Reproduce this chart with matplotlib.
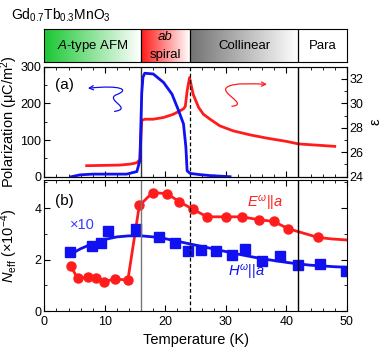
import numpy as np
import matplotlib
matplotlib.use("Agg")
import matplotlib.pyplot as plt
from matplotlib.path import Path
from matplotlib.patches import FancyArrowPatch
from matplotlib.ticker import MultipleLocator

plt.rcParams['font.family'] = ['Liberation Sans', 'DejaVu Sans']
plt.rcParams['font.size'] = 9
plt.rcParams['axes.labelsize'] = 10.5
plt.rcParams['mathtext.fontset'] = 'custom'
plt.rcParams['mathtext.rm'] = 'Liberation Sans'
plt.rcParams['mathtext.it'] = 'Liberation Sans:italic'

RED = '#ff1c1c'
BLUE = '#1010f0'

# (a) polarization (left axis) and permittivity (right axis)
T_P = [4.5, 5.9, 8.0, 10.3, 13.6, 15.3, 15.8, 16.1, 16.3, 16.6, 18.0, 19.7,
       21.1, 22.1, 23.0, 23.4, 23.6, 24.1, 25.5, 27.4, 30.7]
P = [0, 5, 7, 7, 7, 14, 45, 227, 271, 282, 280, 257,
     225, 184, 144, 80, 16, 9, 6, 3, 0]

T_eps = [7.0, 12.5, 14.2, 15.3, 15.8, 16.1, 16.6, 18.0, 19.7, 21.3, 22.4, 23.0,
         23.3, 23.6, 24.0, 24.6, 25.5, 26.3, 27.4, 29.0, 31.2, 34.0, 36.8,
         40.1, 42.0, 45.0, 48.0]
eps = [24.9, 24.95, 25.03, 25.14, 25.4, 28.6, 28.7, 28.7, 28.84, 29.1, 29.38, 29.55,
       29.75, 31.0, 32.1, 30.74, 29.66, 29.1, 28.7, 28.16, 27.75, 27.42, 27.15,
       26.88, 26.68, 26.58, 26.48]

# (b) N_eff
T_E = [4.36, 5.5, 7.3, 8.55, 9.9, 11.7, 13.8, 15.7, 17.9, 20.3, 22.3, 24.5,
       26.9, 30.0, 32.6, 35.4, 37.9, 40.3, 45.2]
N_E = [1.74, 1.28, 1.31, 1.28, 1.13, 1.26, 1.19, 4.1, 4.6, 4.56, 4.25, 3.96,
       3.66, 3.66, 3.66, 3.55, 3.48, 3.2, 2.86]
T_E_tail = [47.5, 50.0]
N_E_tail = [2.8, 2.76]

T_H = [4.25, 7.9, 9.4, 10.6, 15.2, 19.0, 21.6, 23.8, 25.9, 28.3, 31.0, 33.2,
       35.9, 39.0, 42.0, 45.6, 49.9]
N_H = [2.29, 2.54, 2.63, 3.09, 3.2, 2.86, 2.65, 2.34, 2.38, 2.32, 2.19, 2.41,
       1.95, 2.14, 1.77, 1.84, 1.57]
T_Hfit = [4.3, 6, 8, 10, 12, 14, 16, 18, 20, 22, 24, 26, 28, 30, 32, 34, 36,
          38, 40, 42, 44, 46, 48, 50]
N_Hfit = [2.2, 2.42, 2.62, 2.78, 2.88, 2.92, 2.92, 2.88, 2.81, 2.71, 2.61, 2.51,
          2.41, 2.31, 2.21, 2.12, 2.03, 1.96, 1.89, 1.83, 1.78, 1.75, 1.72, 1.7]

# phase diagram
phase_edges = [0, 16, 24, 42, 50]
phase_colors = [(0.1, 0.78, 0.2), (1.0, 0.1, 0.1), (0.45, 0.45, 0.45), (1, 1, 1)]
T_lines = [16, 24, 42]

fig = plt.figure(figsize=(3.82, 3.47), dpi=100)
L, W = 0.116, 0.792
axp = fig.add_axes([L, 0.8213, W, 0.0951])
ax1 = fig.add_axes([L, 0.4908, W, 0.3172])
ax3 = fig.add_axes([L, 0.1037, W, 0.3783])

# phase bar with gradients
for i in range(4):
    x0, x1 = phase_edges[i], phase_edges[i + 1]
    c = np.array(phase_colors[i])
    f = np.linspace(0, 1, 100)[None, :, None]
    if i < 3:
        img = c * (1 - f) + 1.0 * f
    else:
        img = np.ones((1, 100, 3))
    axp.imshow(img, extent=[x0, x1, 0, 1], aspect='auto')
    if i > 0:
        axp.axvline(x0, color='k', lw=0.9)
axp.set_xlim(0, 50)
axp.set_ylim(0, 1)
axp.set_xticks([])
axp.set_yticks([])
axp.text(8, 0.48, r'$\it{A}$-type AFM', ha='center', va='center', fontsize=9.5)
axp.text(20, 0.76, 'ab', style='italic', ha='center', va='center', fontsize=9.5)
axp.text(20, 0.22, 'spiral', ha='center', va='center', fontsize=9.5)
axp.text(33, 0.48, 'Collinear', ha='center', va='center', fontsize=9.5)
axp.text(46, 0.48, 'Para', ha='center', va='center', fontsize=9.5)

fig.text(0.03, 0.955, r'Gd$_{0.7}$Tb$_{0.3}$MnO$_3$', fontsize=10, va='center')

# (a)
ax2 = ax1.twinx()
ax1.plot(T_P, P, color=BLUE, lw=2, zorder=3)
ax2.plot(T_eps, eps, color=RED, lw=2)
ax1.set_zorder(ax2.get_zorder() + 1)
ax1.patch.set_visible(False)
ax1.set_xlim(0, 50)
ax1.set_ylim(0, 300)
ax2.set_ylim(24, 33)
ax1.set_ylabel('Polarization (μC/m$^2$)')
ax1.yaxis.set_label_coords(-0.082, 0.5)
ax2.set_ylabel('ε')
ax2.yaxis.set_label_coords(1.07, 0.5)
ax1.text(1.8, 250, '(a)', fontsize=11, va='center')
ax1.xaxis.set_major_locator(MultipleLocator(10))
ax1.xaxis.set_minor_locator(MultipleLocator(2))
ax1.yaxis.set_major_locator(MultipleLocator(100))
ax1.yaxis.set_minor_locator(MultipleLocator(50))
ax2.yaxis.set_major_locator(MultipleLocator(2))
ax2.yaxis.set_minor_locator(MultipleLocator(1))
ax1.tick_params(which='both', direction='in', top=True, right=False, labelbottom=False)
ax2.tick_params(which='both', direction='in', pad=2)
ax1.tick_params(axis='y', pad=2)
for ax in (ax1, ax2):
    ax.tick_params(which='major', length=4)
    ax.tick_params(which='minor', length=2)

# curly arrows
blue_path = Path([(11.6, 178), (14.8, 186), (9.8, 210), (12.0, 224),
                  (14.2, 238), (12.5, 250), (7.2, 241)],
                 [Path.MOVETO, Path.CURVE4, Path.CURVE4, Path.CURVE4,
                  Path.CURVE4, Path.CURVE4, Path.CURVE4])
ax1.add_patch(FancyArrowPatch(path=blue_path, arrowstyle='->,head_length=3,head_width=1.5',
                              color=BLUE, lw=0.9))
red_path = Path([(31.0, 29.76), (34.0, 29.9), (28.6, 30.9), (30.3, 31.35),
                 (31.5, 31.7), (34.5, 31.6), (36.8, 31.55)],
                [Path.MOVETO, Path.CURVE4, Path.CURVE4, Path.CURVE4,
                 Path.CURVE4, Path.CURVE4, Path.CURVE4])
ax2.add_patch(FancyArrowPatch(path=red_path, arrowstyle='->,head_length=3,head_width=1.5',
                              color=RED, lw=0.9))

# (b)
ax3.plot(T_E + T_E_tail, N_E + N_E_tail, color=RED, lw=2)
ax3.plot(T_E, N_E, 'o', color=RED, ms=6.5)
ax3.plot(T_Hfit, N_Hfit, color=BLUE, lw=2)
ax3.plot(T_H, N_H, 's', color=BLUE, ms=6.5)
ax3.set_xlim(0, 50)
ax3.set_ylim(0, 5.1)
ax3.set_xlabel('Temperature (K)')
ax3.xaxis.set_label_coords(0.5, -0.17)
ax3.set_ylabel(r'$N_{\rm eff}$ (×10$^{-4}$)')
ax3.yaxis.set_label_coords(-0.082, 0.5)
ax3.text(1.8, 4.27, '(b)', fontsize=11, va='center')
ax3.text(4.2, 3.35, '×10', color='#3a3aff', fontsize=10.5, va='center')
ax3.text(33.5, 4.2, r'$E^{\omega}$||$a$', color=RED, fontsize=10.5, va='center')
ax3.text(30.3, 1.5, r'$H^{\omega}$||$a$', color=BLUE, fontsize=10.5, va='center')
ax3.xaxis.set_major_locator(MultipleLocator(10))
ax3.xaxis.set_minor_locator(MultipleLocator(2))
ax3.yaxis.set_major_locator(MultipleLocator(2))
ax3.yaxis.set_minor_locator(MultipleLocator(1))
ax3.tick_params(which='both', direction='in', top=True, right=True)
ax3.tick_params(axis='y', pad=2)
ax3.tick_params(which='major', length=4)
ax3.tick_params(which='minor', length=2)

for ax, gray in ((ax1, '#333333'), (ax3, '#777777')):
    ax.axvline(T_lines[0], color=gray, lw=1)
    ax.axvline(T_lines[1], color='k', lw=0.9, ls='--', dashes=(3, 2))
    ax.axvline(T_lines[2], color='k', lw=1)

fig.savefig('out.png', dpi=100)
